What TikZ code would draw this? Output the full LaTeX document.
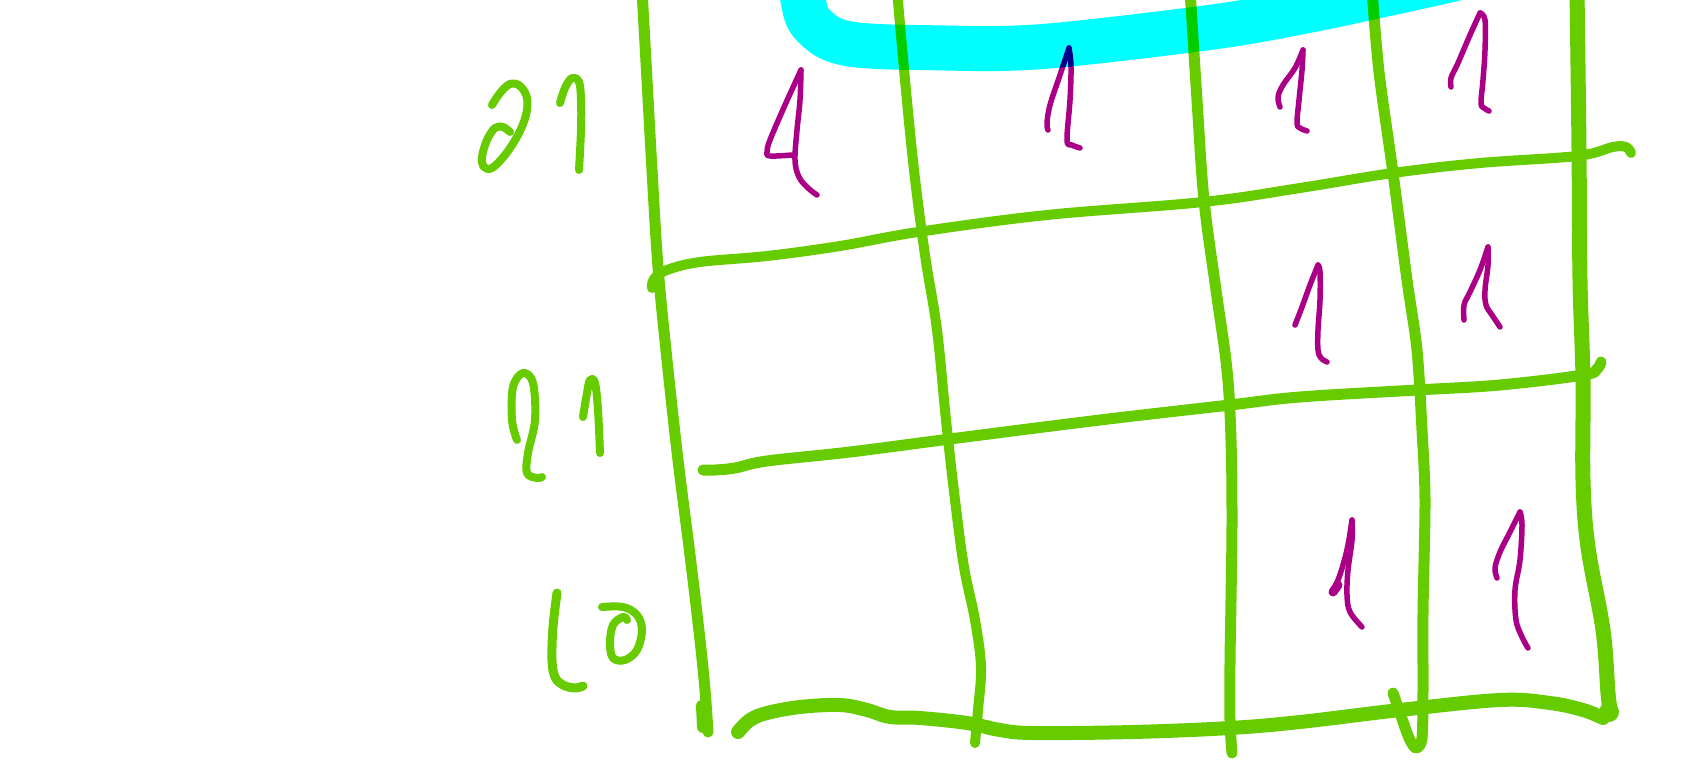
\documentclass[tikz,border=0pt]{standalone}
\definecolor{kgreen}{RGB}{102,204,0}
\definecolor{kmag}{RGB}{170,0,136}
\definecolor{kcyan}{RGB}{0,255,255}
\tikzset{
  gline/.style={draw=kgreen, line cap=round, line join=round},
  mline/.style={draw=kmag, line width=5.5pt, line cap=round, line join=round},
  lbl/.style={draw=kgreen, line width=8pt, line cap=round, line join=round},
  band/.style={draw=kcyan, line width=45pt, line cap=round, line join=round}
}
\begin{document}
\begin{tikzpicture}[x=1pt,y=-1pt]
\useasboundingbox (0,0) rectangle (1684,775);
\clip (0,0) rectangle (1684,775);
\fill[white] (0,0) rectangle (1684,775);
% grid lines
\draw[gline, line width=11pt] plot[smooth, tension=0.6] coordinates {(642,-10) (647,80) (652,170) (658,267) (667,360) (678,460) (690,555) (700,640) (705,690) (708,732)};
\draw[gline, line width=12pt] (702,706) -- (703,727);
\draw[gline, line width=10pt] plot[smooth, tension=0.6] coordinates {(652,288) (654,279) (667,270) (700,262) (767,256) (840,246) (918,232) (1047,215) (1203,202) (1300,188) (1393,173) (1480,163) (1577,156) (1613,147) (1626,147) (1631,153)};
\draw[gline, line width=11pt] plot[smooth, tension=0.6] coordinates {(703,470) (715,470) (735,468) (767,461) (850,452) (950,439) (1100,420) (1230,405) (1300,397) (1417,390) (1500,385) (1583,375) (1597,369) (1601,362)};
\draw[gline, line width=14pt] plot[smooth, tension=0.6] coordinates {(738,732) (750,720) (767,713) (800,707) (840,705) (867,710) (890,717) (920,718) (967,723) (1000,730) (1033,733) (1133,732) (1230,728) (1300,722) (1400,710) (1500,700) (1550,703) (1583,710) (1603,718)};
\draw[gline, line width=10pt] plot[smooth, tension=0.6] coordinates {(897,-10) (905,80) (914,170) (925,255) (937,330) (946,420) (955,500) (964,567) (975,620) (981,667) (978,710) (975,743)};
\draw[gline, line width=11pt] plot[smooth, tension=0.6] coordinates {(1190,-10) (1197,100) (1204,200) (1216,290) (1227,370) (1231,440) (1232,520) (1231,600) (1230,663) (1230,720) (1232,753)};
\draw[gline, line width=11pt] plot[smooth, tension=0.5] coordinates {(1372,-10) (1379,72) (1393,173) (1407,280) (1417,350) (1422,430) (1425,500) (1423,613) (1423,690) (1422,738) (1416,748) (1409,738) (1400,713) (1393,693)};
\draw[gline, line width=15pt] plot[smooth, tension=0.6] coordinates {(1577,-10) (1579,150) (1580,280) (1583,380) (1583,480) (1588,547) (1603,630) (1608,693) (1610,708)};
\fill[kgreen] (1609,712) circle (10);
% row labels
\draw[lbl] plot[smooth, tension=0.6] coordinates {(492,105) (500,93) (510,84) (520,86) (527,98) (526,115) (518,135) (505,155) (492,168) (484,167) (482,157) (487,140) (495,128) (503,127) (510,132)};
\draw[lbl] plot[smooth, tension=0.6] coordinates {(560,103) (565,88) (572,78) (579,82) (581,100) (581,130) (579,170)};
\draw[lbl] plot[smooth, tension=0.6] coordinates {(517,440) (512,420) (513,387) (523,373) (533,383) (535,420) (528,453) (527,473) (537,478) (542,477)};
\draw[lbl] plot[smooth, tension=0.6] coordinates {(583,417) (587,393) (590,380) (595,383) (598,410) (600,453)};
\draw[lbl, line width=9pt] plot[smooth, tension=0.6] coordinates {(557,593) (553,627) (552,660) (555,677) (563,685) (575,688) (583,686)};
\draw[lbl] plot[smooth, tension=0.6] coordinates {(602,607) (623,607) (637,615) (642,630) (637,650) (625,660) (613,658) (610,643) (613,625) (623,617) (627,620)};
% cell entries
\draw[mline] plot[smooth, tension=0.6] coordinates {(801,70) (800,100) (797,130) (795,160) (799,177) (808,188) (817,195)};
\draw[mline] plot[smooth, tension=0.6] coordinates {(801,70) (785,105) (770,140) (767,152) (770,156) (792,155)};
\draw[mline] plot[smooth, tension=0.6] coordinates {(1069,48) (1060,75) (1050,105) (1047,123) (1048,130)};
\draw[mline] plot[smooth, tension=0.6] coordinates {(1069,48) (1071,67) (1070,100) (1067,140) (1072,145) (1080,148)};
\draw[mline] plot[smooth, tension=0.6] coordinates {(1303,50) (1295,68) (1283,85) (1278,97) (1280,107)};
\draw[mline] plot[smooth, tension=0.6] coordinates {(1303,50) (1302,70) (1299,100) (1297,123) (1300,128) (1307,131)};
\draw[mline] plot[smooth, tension=0.6] coordinates {(1480,13) (1470,35) (1458,63) (1451,78) (1451,87)};
\draw[mline] plot[smooth, tension=0.6] coordinates {(1480,13) (1485,20) (1485,50) (1483,80) (1481,103) (1484,108) (1489,111)};
\draw[mline] plot[smooth, tension=0.6] coordinates {(1318,265) (1310,285) (1302,307) (1295,325)};
\draw[mline] plot[smooth, tension=0.6] coordinates {(1318,265) (1320,272) (1320,300) (1318,330) (1318,350) (1321,358) (1327,362)};
\draw[mline] plot[smooth, tension=0.6] coordinates {(1488,247) (1480,270) (1470,292) (1464,305) (1464,320)};
\draw[mline] plot[smooth, tension=0.6] coordinates {(1488,247) (1488,265) (1485,290) (1486,305) (1492,315) (1500,327)};
\draw[mline] plot[smooth, tension=0.6] coordinates {(1352,520) (1348,545) (1343,565) (1338,580) (1332,592)};
\draw[mline, line width=9pt] (1333,592) -- (1338,585);
\draw[mline] plot[smooth, tension=0.6] coordinates {(1352,520) (1352,540) (1348,570) (1347,595) (1350,612) (1362,627)};
\draw[mline] plot[smooth, tension=0.6] coordinates {(1520,512) (1510,532) (1500,552) (1495,568) (1497,578)};
\draw[mline] plot[smooth, tension=0.6] coordinates {(1520,512) (1522,525) (1520,560) (1515,590) (1516,620) (1522,637) (1528,648)};
% highlighter band
\begin{scope}[blend mode=multiply]
\draw[band] plot[smooth, tension=0.6] coordinates {(800,-40) (803,0) (814,26) (850,44) (946,48) (1017,48) (1089,42) (1220,26) (1300,12) (1372,-3) (1470,-25) (1520,-40)};
\end{scope}
\end{tikzpicture}
\end{document}
